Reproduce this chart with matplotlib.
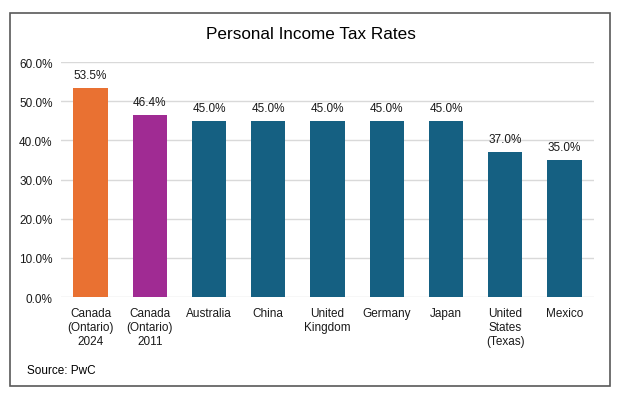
import matplotlib.pyplot as plt
from matplotlib.patches import Rectangle

plt.rcParams['font.family'] = ['Liberation Sans', 'DejaVu Sans']

countries = ['Canada\n(Ontario)\n2024', 'Canada\n(Ontario)\n2011', 'Australia', 'China',
             'United\nKingdom', 'Germany', 'Japan', 'United\nStates\n(Texas)', 'Mexico']
rates = [53.5, 46.4, 45.0, 45.0, 45.0, 45.0, 45.0, 37.0, 35.0]
colors = ['#E97132', '#A02B93'] + ['#156082'] * 7

fig = plt.figure(figsize=(6.26, 4.02), dpi=100)
ax = fig.add_axes([0.0974, 0.2587, 0.8516, 0.5843])

x = range(len(countries))
ax.bar(x, rates, width=0.58, color=colors, zorder=3)
for i, v in enumerate(rates):
    ax.text(i, v + 1.8, f'{v:.1f}%', ha='center', va='bottom', fontsize=8.5, color='#1a1a1a')

ax.set_ylim(0, 60)
ax.set_xlim(-0.5, len(countries) - 0.5)
ax.set_yticks(range(0, 61, 10))
ax.set_yticklabels([f'{t:.1f}%' for t in range(0, 61, 10)], fontsize=8.5, color='#1a1a1a')
ax.set_xticks(list(x))
ax.set_xticklabels(countries, fontsize=8.5, color='#1a1a1a', linespacing=1.25)
ax.tick_params(length=0, pad=6)
ax.tick_params(axis='x', pad=7)
ax.grid(axis='y', color='#D9D9D9', linewidth=1, zorder=0)
for s in ax.spines.values():
    s.set_visible(False)

fig.text(0.497, 0.915, 'Personal Income Tax Rates', ha='center', va='center', fontsize=12.3)
fig.text(0.043, 0.078, 'Source: PwC', ha='left', va='center', fontsize=8.5)

fig.patches.append(Rectangle((0.016, 0.037), 0.959, 0.928, transform=fig.transFigure,
                             fill=False, edgecolor='#595959', linewidth=1.2))

fig.savefig('out.png', dpi=100)
